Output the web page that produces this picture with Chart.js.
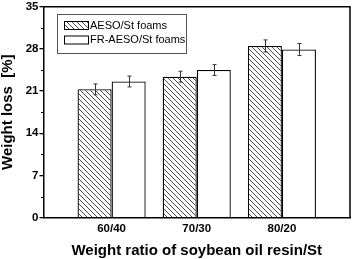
<!DOCTYPE html>
<html>
<head>
<meta charset="utf-8">
<script src="https://cdn.jsdelivr.net/npm/chart.js@4.4.1/dist/chart.umd.min.js"></script>
<style>
html, body { margin: 0; padding: 0; background: #fff; }
</style>
</head>
<body>
<canvas id="myChart" width="352" height="259"></canvas>
<script>
// data
const categories = ['60/40', '70/30', '80/20'];
const aesoValues = [21.3, 23.4, 28.5];
const aesoErrors = [0.9, 0.9, 1.0];
const frValues = [22.6, 24.5, 27.9];
const frErrors = [0.9, 0.9, 1.0];
const yTicks = [0, 7, 14, 21, 28, 35];
const yMinorTicks = [3.5, 10.5, 17.5, 24.5, 31.5];

const FONT = "'Liberation Sans', Arial, sans-serif";
const ctx = document.getElementById('myChart').getContext('2d');

// diagonal hatch fill for the AESO bars
function makeHatch(size, color) {
    const c = document.createElement('canvas');
    c.width = size;
    c.height = size;
    const g = c.getContext('2d');
    g.fillStyle = '#fff';
    g.fillRect(0, 0, size, size);
    g.strokeStyle = color;
    g.lineWidth = 1;
    g.beginPath();
    g.moveTo(0, 0); g.lineTo(size, size);
    g.moveTo(-1, size - 1); g.lineTo(1, size + 1);
    g.moveTo(size - 1, -1); g.lineTo(size + 1, 1);
    g.stroke();
    return ctx.createPattern(c, 'repeat');
}
const hatch = makeHatch(5, '#4a4a4a');

const toPoints = vals => vals.map((v, i) => ({ x: i + 1, y: v }));

// error bars, minor ticks, frame and legend box
const extras = {
    id: 'extras',
    afterDatasetsDraw(chart) {
        const c = chart.ctx;
        const y = chart.scales.y;
        c.save();
        c.strokeStyle = '#333';
        c.lineWidth = 1;
        chart.data.datasets.forEach((ds, i) => {
            const meta = chart.getDatasetMeta(i);
            meta.data.forEach((bar, j) => {
                const v = ds.data[j].y, e = ds.errors[j];
                const top = y.getPixelForValue(v + e);
                const bot = y.getPixelForValue(v - e);
                const x = Math.round(bar.x) + 0.5;
                c.beginPath();
                c.moveTo(x, top); c.lineTo(x, bot);
                c.moveTo(x - 2, top); c.lineTo(x + 2, top);
                c.moveTo(x - 2, bot); c.lineTo(x + 2, bot);
                c.stroke();
            });
        });
        c.restore();
    },
    afterDraw(chart) {
        const c = chart.ctx;
        const a = chart.chartArea;
        const y = chart.scales.y;
        c.save();
        // top and right frame
        c.strokeStyle = '#000';
        c.lineWidth = 1.5;
        c.beginPath();
        c.moveTo(a.left, a.top);
        c.lineTo(a.right, a.top);
        c.lineTo(a.right, a.bottom);
        c.stroke();
        // minor ticks
        c.lineWidth = 1;
        c.beginPath();
        yMinorTicks.forEach(v => {
            const py = Math.round(y.getPixelForValue(v)) + 0.5;
            c.moveTo(a.left - 2.5, py);
            c.lineTo(a.left, py);
        });
        c.stroke();
        // legend
        const lx = a.left + 13.5, ly = a.top + 7;
        c.strokeStyle = '#555';
        c.lineWidth = 1;
        c.strokeRect(Math.round(lx) + 0.5, Math.round(ly) + 0.5, 129, 39);
        c.font = '11px ' + FONT;
        c.textBaseline = 'middle';
        c.fillStyle = '#000';
        chart.data.datasets.forEach((ds, i) => {
            const sx = Math.round(lx) + 7, sy = Math.round(ly) + 7 + i * 14.5;
            c.fillStyle = ds.backgroundColor;
            c.fillRect(sx, sy, 24, 8);
            c.strokeStyle = '#000';
            c.strokeRect(sx + 0.5, sy + 0.5, 24, 8);
            c.fillStyle = '#000';
            c.fillText(ds.label, sx + 26, sy + 4.5);
        });
        c.restore();
    }
};

const myChart = new Chart(ctx, {
    type: 'bar',
    data: {
        datasets: [{
            label: 'AESO/St foams',
            data: toPoints(aesoValues),
            errors: aesoErrors,
            backgroundColor: hatch,
            borderColor: '#000',
            borderWidth: 1.3
        }, {
            label: 'FR-AESO/St foams',
            data: toPoints(frValues),
            errors: frErrors,
            backgroundColor: '#fff',
            borderColor: '#000',
            borderWidth: 1.3
        }]
    },
    options: {
        responsive: false,
        animation: false,
        devicePixelRatio: 1,
        categoryPercentage: 0.8,
        barPercentage: 1.0,
        layout: { padding: { left: 0, top: 6, right: 2, bottom: 0 } },
        plugins: {
            legend: { display: false },
            tooltip: { enabled: false }
        },
        scales: {
            x: {
                type: 'linear',
                min: 0.2,
                max: 3.8,
                offset: false,
                afterBuildTicks: scale => {
                    scale.ticks = categories.map((c, i) => ({ value: i + 1 }));
                },
                afterFit: scale => { scale.height = 41.3; },
                grid: { display: false, drawTicks: false },
                border: { display: true, color: '#000', width: 1.5 },
                ticks: {
                    padding: 5,
                    color: '#000',
                    font: { family: FONT, size: 11.5, weight: 'bold', lineHeight: 1 },
                    callback: v => categories[v - 1] || ''
                },
                title: {
                    display: true,
                    text: 'Weight ratio of soybean oil resin/St',
                    color: '#000',
                    font: { family: FONT, size: 15, weight: 'bold', lineHeight: 1.1 },
                    padding: { top: 0, bottom: 0 }
                }
            },
            y: {
                min: 0,
                max: 35,
                afterBuildTicks: scale => {
                    scale.ticks = yTicks.map(v => ({ value: v }));
                },
                afterFit: scale => { scale.width = 43.5; },
                grid: { drawOnChartArea: false, drawTicks: true, tickLength: 4, color: '#000', lineWidth: 1.3 },
                border: { display: true, color: '#000', width: 1.5 },
                ticks: {
                    padding: 1,
                    color: '#000',
                    font: { family: FONT, size: 11.5, weight: 'bold', lineHeight: 1 }
                },
                title: {
                    display: true,
                    text: 'Weight loss  [%]',
                    color: '#000',
                    font: { family: FONT, size: 15, weight: 'bold', lineHeight: 1 },
                    padding: { top: 0.7, bottom: 0 }
                }
            }
        }
    },
    plugins: [extras]
});
</script>
</body>
</html>
